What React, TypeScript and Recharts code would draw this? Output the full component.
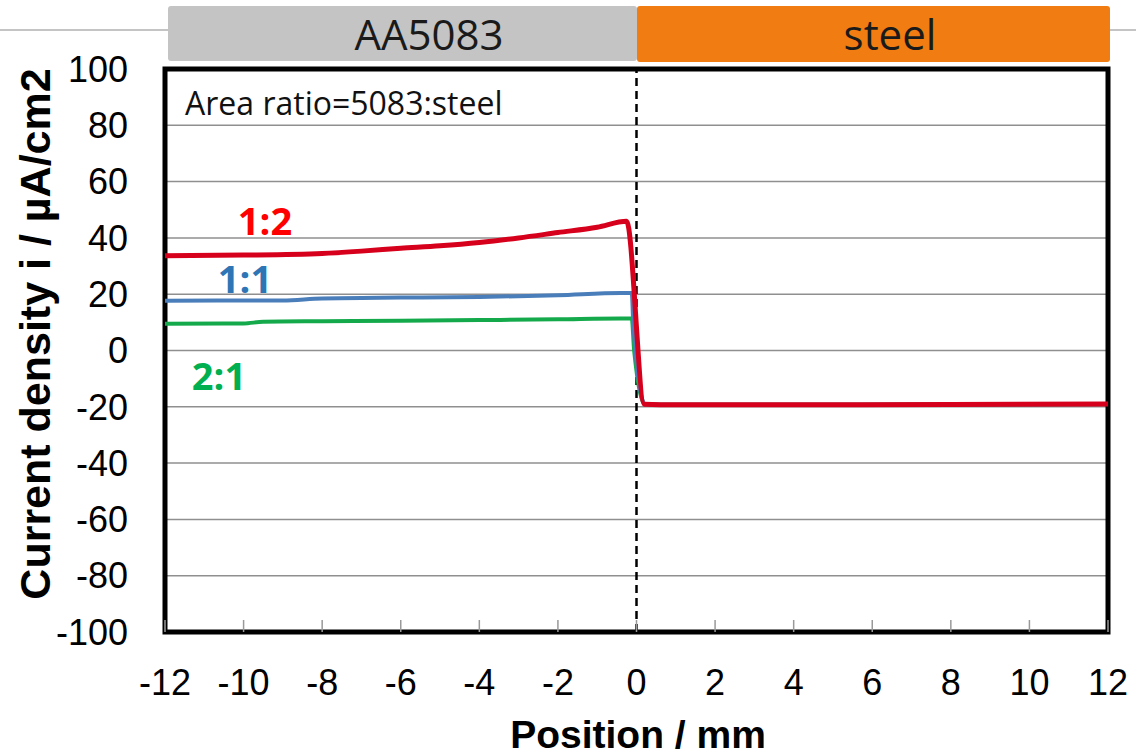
import React from 'react';
import { LineChart, Line, XAxis, YAxis, CartesianGrid, ReferenceLine, ReferenceArea } from 'recharts';

// Position / mm and current density / µA/cm2
const ratio12X = [-12, -10, -8, -7, -6, -5, -4, -3, -2, -1, -0.25, 0.2, 1, 4, 8, 12];
const ratio12Y = [33.7, 33.9, 34.5, 35.3, 36.3, 37.2, 38.4, 40.0, 41.9, 43.8, 45.9, -19.1, -19.3, -19.3, -19.2, -19.0];

const ratio11X = [-12, -9, -8, -6, -4, -2, -0.4, -0.12, -0.08, 0.22, 1, 4, 8, 12];
const ratio11Y = [17.7, 17.8, 18.5, 18.8, 19.0, 19.6, 20.4, 20.4, 9.0, -19.1, -19.3, -19.3, -19.2, -19.0];

const ratio21X = [-12, -10, -9.5, -8, -6, -4, -2, -0.4, -0.12, -0.06, 0.22, 1, 4, 8, 12];
const ratio21Y = [9.5, 9.6, 10.2, 10.4, 10.6, 10.8, 11.1, 11.4, 11.4, 0.0, -19.1, -19.3, -19.3, -19.2, -19.0];

const xTicks = [-12, -10, -8, -6, -4, -2, 0, 2, 4, 6, 8, 10, 12];
const yTicks = [-100, -80, -60, -40, -20, 0, 20, 40, 60, 80, 100];

const toPoints = (xs: number[], ys: number[]) => xs.map((x, i) => ({ x, y: ys[i] }));

const ratio12 = toPoints(ratio12X, ratio12Y);
const ratio11 = toPoints(ratio11X, ratio11Y);
const ratio21 = toPoints(ratio21X, ratio21Y);

const W = 1136;
const H = 755;
const tickFont = { fontSize: 36, fill: '#000', fontFamily: '"Liberation Sans", Arial, sans-serif' };
const boldFont = '"Liberation Sans", Arial, sans-serif';
const calibriLike = '"Open Sans", "Noto Sans", sans-serif';

export default function App() {
  return (
    <div style={{ position: 'absolute', left: 0, top: 0, width: W, height: H, background: '#fff' }}>
      <LineChart width={W} height={H} margin={{ top: 69, right: 28, bottom: 63, left: 0 }}>
        <CartesianGrid vertical={false} stroke="#8f8f8f" strokeWidth={1.5} />
        <XAxis
          dataKey="x"
          type="number"
          domain={[-12, 12]}
          ticks={xTicks}
          allowDataOverflow
          height={60}
          axisLine={false}
          tickLine={{ stroke: '#999', strokeWidth: 1.5 }}
          tickSize={-12}
          tickMargin={49}
          tick={tickFont}
        />
        <YAxis
          type="number"
          domain={[-100, 100]}
          ticks={yTicks}
          width={165}
          axisLine={false}
          tickLine={false}
          tickSize={0}
          tickMargin={37}
          tick={tickFont}
        />
        <ReferenceLine x={0} stroke="#000" strokeWidth={2.5} strokeDasharray="8 5" />
        <Line data={ratio21} dataKey="y" type="monotone" stroke="#14aa4c" strokeWidth={4} dot={false} isAnimationActive={false} />
        <Line data={ratio11} dataKey="y" type="monotone" stroke="#4a7ebb" strokeWidth={4} dot={false} isAnimationActive={false} />
        <Line data={ratio12} dataKey="y" type="monotone" stroke="#d6001c" strokeWidth={5} dot={false} isAnimationActive={false} />
        <ReferenceArea x1={-12} x2={12} y1={-100} y2={100} fill="none" fillOpacity={0} stroke="#000" strokeWidth={5} />
      </LineChart>

      <svg width={W} height={H} style={{ position: 'absolute', left: 0, top: 0, pointerEvents: 'none' }}>
        {/* header strip */}
        <line x1={0} y1={30} x2={168} y2={30} stroke="#b0b0b0" strokeWidth={1.5} />
        <line x1={1110} y1={30} x2={W} y2={30} stroke="#b0b0b0" strokeWidth={1.5} />
        <rect x={168} y={6} width={469} height={55} fill="#c4c4c4" rx={3} />
        <rect x={637} y={6} width={473} height={56} fill="#f07c12" rx={3} />
        <text x={429} y={50} textAnchor="middle" fontFamily={calibriLike} fontSize={42} fill="#1a1a1a">AA5083</text>
        <text x={890} y={50} textAnchor="middle" fontFamily={calibriLike} fontSize={42} fill="#1a1a1a">steel</text>

        {/* annotations */}
        <text x={185} y={115} fontFamily={calibriLike} fontSize={32} fill="#111">Area ratio=5083:steel</text>
        <text x={265} y={235} textAnchor="middle" fontFamily={calibriLike} fontWeight="bold" fontSize={38} fill="#ff0000">1:2</text>
        <text x={245} y={293} textAnchor="middle" fontFamily={calibriLike} fontWeight="bold" fontSize={38} fill="#2e75b6">1:1</text>
        <text x={219} y={390} textAnchor="middle" fontFamily={calibriLike} fontWeight="bold" fontSize={38} fill="#00b050">2:1</text>

        {/* axis titles */}
        <text
          x={0}
          y={0}
          transform="translate(50,334) rotate(-90)"
          textAnchor="middle"
          fontFamily={boldFont}
          fontWeight="bold"
          fontSize={43}
          fill="#000"
        >
          Current density i / µA/cm2
        </text>
        <text x={638} y={748} textAnchor="middle" fontFamily={boldFont} fontWeight="bold" fontSize={39} fill="#000">
          Position / mm
        </text>
      </svg>
    </div>
  );
}
